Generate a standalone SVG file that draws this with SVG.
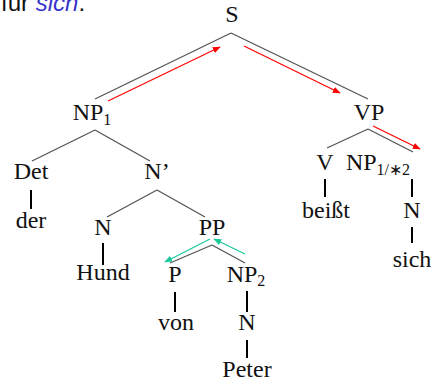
<svg xmlns="http://www.w3.org/2000/svg" width="446" height="383" viewBox="0 0 446 383">
<defs>
<style>
.lbl{font-family:'Liberation Serif',serif !important;font-size:24px;fill:#111;text-anchor:middle}
.sb{font-size:16px}
.e{stroke:#555;stroke-width:1.3;fill:none}
.v{stroke:#000;stroke-width:2;fill:none}
.r{stroke:#ff0000;stroke-width:1.2;fill:none}
.g{stroke:#19c99a;stroke-width:1.2;fill:none}
</style>
<marker id="ar" viewBox="0 0 10 10" refX="9" refY="5" markerWidth="8" markerHeight="8" markerUnits="userSpaceOnUse" orient="auto"><path d="M0,1 L10,5 L0,9 z" fill="#ff0000"/></marker>
<marker id="ag" viewBox="0 0 10 10" refX="9" refY="5" markerWidth="8" markerHeight="8" markerUnits="userSpaceOnUse" orient="auto"><path d="M0,1 L10,5 L0,9 z" fill="#19c99a"/></marker>
</defs>
<rect width="446" height="383" fill="#fff"/>
<text x="1" y="11" style="font-family:'Liberation Sans',sans-serif" font-size="24" fill="#111">für <tspan fill="#3535cc" font-style="italic">sich</tspan>.</text>
<g id="connectors">
<line class="e" x1="231" y1="33" x2="95" y2="99"/>
<line class="e" x1="231" y1="33" x2="368" y2="99"/>
<line class="e" x1="95" y1="130" x2="32" y2="161"/>
<line class="e" x1="95" y1="130" x2="150" y2="161"/>
<line class="v" x1="31" y1="190" x2="31" y2="209"/>
<line class="e" x1="157" y1="190" x2="107" y2="217"/>
<line class="e" x1="157" y1="190" x2="205" y2="217"/>
<line class="v" x1="103" y1="243" x2="103" y2="265"/>
<line class="e" x1="212" y1="245" x2="170" y2="263"/>
<line class="e" x1="212" y1="245" x2="245" y2="263"/>
<line class="v" x1="175" y1="292" x2="175" y2="312"/>
<line class="v" x1="247" y1="291" x2="247" y2="312"/>
<line class="v" x1="247" y1="340" x2="247" y2="358"/>
<line class="e" x1="368" y1="129" x2="327" y2="148"/>
<line class="e" x1="368" y1="129" x2="413" y2="152"/>
<line class="v" x1="325" y1="179" x2="325" y2="197"/>
<line class="v" x1="412" y1="179" x2="412" y2="197"/>
<line class="v" x1="412" y1="227" x2="412" y2="243"/>
<line class="r" x1="108" y1="101" x2="220" y2="47" marker-end="url(#ar)"/>
<line class="r" x1="244" y1="46" x2="340" y2="93" marker-end="url(#ar)"/>
<line class="r" x1="373" y1="126" x2="420" y2="149" marker-end="url(#ar)"/>
<line class="g" x1="210" y1="239" x2="165" y2="262" marker-end="url(#ag)"/>
<line class="g" x1="245" y1="254" x2="214" y2="239" marker-end="url(#ag)"/>
</g>
<g id="S"><text class="lbl" style="font-family:'Liberation Serif',serif" x="232" y="22">S</text></g>
<g id="NP1"><text class="lbl" style="font-family:'Liberation Serif',serif" x="92" y="120">NP<tspan class="sb" dy="5">1</tspan></text></g>
<g id="VP"><text class="lbl" style="font-family:'Liberation Serif',serif" x="369" y="120">VP</text></g>
<g id="Det"><text class="lbl" style="font-family:'Liberation Serif',serif" x="31" y="179">Det</text></g>
<g id="der"><text class="lbl" style="font-family:'Liberation Serif',serif" x="31" y="228">der</text></g>
<g id="Nbar"><text class="lbl" style="font-family:'Liberation Serif',serif" x="157" y="179">N’</text></g>
<g id="N1"><text class="lbl" style="font-family:'Liberation Serif',serif" x="103" y="235">N</text></g>
<g id="Hund"><text class="lbl" style="font-family:'Liberation Serif',serif" x="103" y="280">Hund</text></g>
<g id="PP"><text class="lbl" style="font-family:'Liberation Serif',serif" x="212" y="235">PP</text></g>
<g id="P"><text class="lbl" style="font-family:'Liberation Serif',serif" x="175" y="282">P</text></g>
<g id="von"><text class="lbl" style="font-family:'Liberation Serif',serif" x="176" y="330">von</text></g>
<g id="NP2"><text class="lbl" style="font-family:'Liberation Serif',serif" x="246" y="282">NP<tspan class="sb" dy="4">2</tspan></text></g>
<g id="N2"><text class="lbl" style="font-family:'Liberation Serif',serif" x="247" y="330">N</text></g>
<g id="Peter"><text class="lbl" style="font-family:'Liberation Serif',serif" x="247" y="377">Peter</text></g>
<g id="V"><text class="lbl" style="font-family:'Liberation Serif',serif" x="325" y="170">V</text></g>
<g id="beisst"><text class="lbl" style="font-family:'Liberation Serif',serif" x="326" y="218">beißt</text></g>
<g id="NP3"><text class="lbl" style="font-family:'Liberation Serif',serif" x="378" y="170" text-anchor="start">NP<tspan class="sb" dy="5">1/∗2</tspan></text></g>
<g id="N3"><text class="lbl" style="font-family:'Liberation Serif',serif" x="412" y="218">N</text></g>
<g id="sich"><text class="lbl" style="font-family:'Liberation Serif',serif" x="412" y="267">sich</text></g>
</svg>
